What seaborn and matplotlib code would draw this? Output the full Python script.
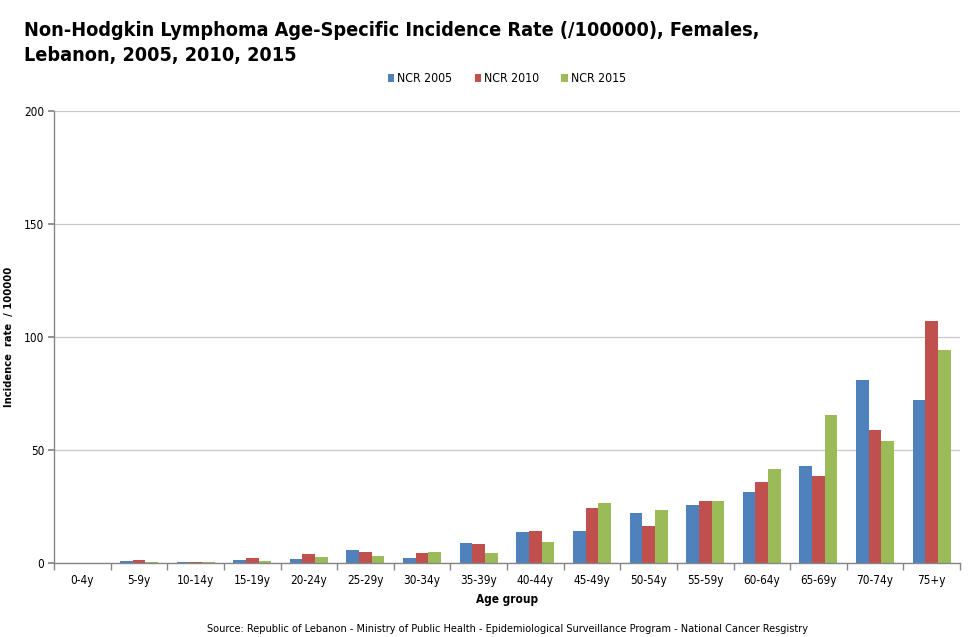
import matplotlib
matplotlib.use("Agg")
import matplotlib.pyplot as plt
import seaborn as sns
import pandas as pd
import numpy as np

age_groups = ["0-4y", "5-9y", "10-14y", "15-19y", "20-24y", "25-29y", "30-34y", "35-39y",
              "40-44y", "45-49y", "50-54y", "55-59y", "60-64y", "65-69y", "70-74y", "75+y"]
ncr_2005 = [0, 1.0, 0.5, 1.4, 1.9, 5.9, 2.3, 8.9, 13.8, 14.2, 22.2, 25.8, 31.5, 43.1, 81.1, 72.3]
ncr_2010 = [0, 1.4, 0.5, 2.3, 4.1, 5.0, 4.6, 8.5, 14.2, 24.4, 16.5, 27.6, 35.9, 38.6, 59.0, 107.2]
ncr_2015 = [0, 0.5, 0.5, 1.0, 2.7, 3.2, 5.0, 4.6, 9.4, 26.6, 23.4, 27.6, 41.6, 65.6, 54.1, 94.4]
series_names = ["NCR 2005", "NCR 2010", "NCR 2015"]
y_ticks = [0, 50, 100, 150, 200]

df = pd.DataFrame({
    "Age group": age_groups * 3,
    "rate": ncr_2005 + ncr_2010 + ncr_2015,
    "series": [s for s in series_names for _ in age_groups],
})

sns.set_theme(style="white")
plt.rcParams['font.family'] = ['DejaVu Sans']
plt.rcParams['font.stretch'] = 'condensed'
plt.rcParams['text.color'] = 'black'
plt.rcParams['axes.labelcolor'] = 'black'
plt.rcParams['xtick.color'] = 'black'
plt.rcParams['ytick.color'] = 'black'

fig = plt.figure(figsize=(9.76, 6.37), dpi=100)
ax = fig.add_axes([54/976, 1 - 563/637, (960-54)/976, (563-111)/637])

palette = ["#4F81BD", "#C0504D", "#9BBB59"]
sns.barplot(data=df, x="Age group", y="rate", hue="series", palette=palette,
            width=0.67, ax=ax, saturation=1, legend=True, linewidth=0)

ax.set_ylim(0, 200)
ax.set_xlim(-0.5, len(age_groups) - 0.5)
ax.set_yticks(y_ticks)
ax.set_yticklabels([str(t) for t in y_ticks], fontsize=8.5)
ax.yaxis.grid(True, color="#C8C8C8", linewidth=0.9)
ax.set_axisbelow(True)
for s in ["top", "right"]:
    ax.spines[s].set_visible(False)
for s in ["left", "bottom"]:
    ax.spines[s].set_color("#868686")
    ax.spines[s].set_linewidth(1)

ax.tick_params(axis="y", which="major", length=4, color="#868686", direction="out", left=True, pad=3)
ax.tick_params(axis="x", which="major", length=0, labelsize=8.5, pad=8)
ax.set_xticks(np.arange(-0.5, len(age_groups), 1.0), minor=True)
ax.tick_params(axis="x", which="minor", length=5, color="#868686", direction="out", bottom=True)

ax.set_xlabel("Age group", fontsize=8.5, fontweight="bold", labelpad=4)
ax.set_ylabel("Incidence  rate  / 100000", fontsize=8, fontweight="bold", labelpad=7)

leg = ax.legend(loc="center", bbox_to_anchor=(0.5, 1 + 32/452), ncol=3, frameon=False,
                fontsize=8.8, handlelength=0.55, handleheight=0.55, handletextpad=0.25,
                columnspacing=1.8)

fig.text(24/976, 1 - 36/637, "Non-Hodgkin Lymphoma Age-Specific Incidence Rate (/100000), Females,",
         fontsize=14.2, fontweight="bold", ha="left", va="baseline")
fig.text(24/976, 1 - 61/637, "Lebanon, 2005, 2010, 2015",
         fontsize=14.2, fontweight="bold", ha="left", va="baseline")
fig.text(508/976, 1 - 629/637,
         "Source: Republic of Lebanon - Ministry of Public Health - Epidemiological Surveillance Program - National Cancer Resgistry",
         fontsize=7.8, ha="center", va="center")

fig.savefig("out.png", dpi=100)
